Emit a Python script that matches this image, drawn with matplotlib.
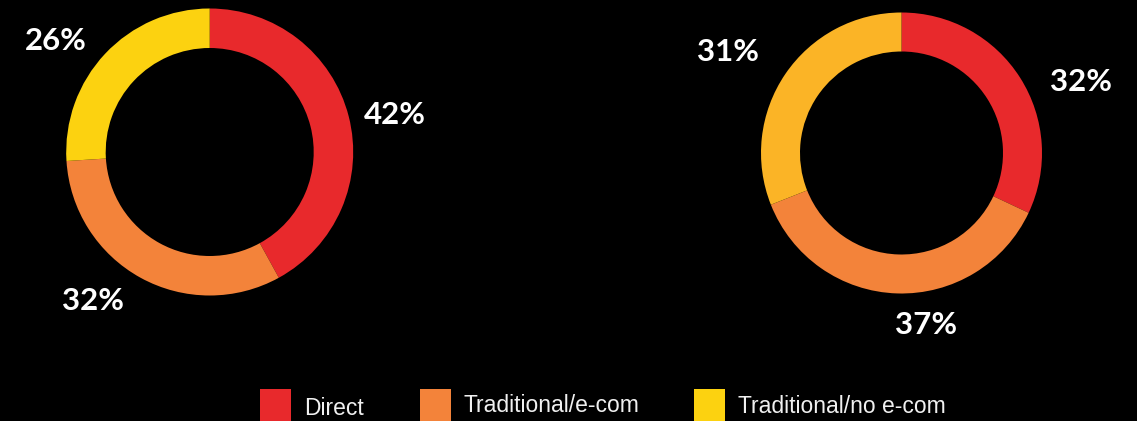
import matplotlib
matplotlib.use("Agg")
import matplotlib.pyplot as plt
from matplotlib.patches import Rectangle

W, H = 1137, 421

categories = ["Direct", "Traditional/e-com", "Traditional/no e-com"]
left_values = [42, 32, 26]
right_values = [32, 37, 31]
left_colors = ["#E8292C", "#F3833A", "#FCD210"]
right_colors = ["#E8292C", "#F3833A", "#FBB426"]
legend_colors = ["#E8292C", "#F3833A", "#FCD210"]

fig = plt.figure(figsize=(W / 100, H / 100), dpi=100, facecolor="black")
ax = fig.add_axes([0, 0, 1, 1])
ax.set_facecolor("black")
ax.set_xlim(0, W)
ax.set_ylim(0, H)
ax.set_aspect("equal")
ax.axis("off")


def donut(values, colors, cx, cy, r, ring, label_pos):
    ax.pie(values, colors=colors, startangle=90, counterclock=False,
           center=(cx, H - cy), radius=r,
           wedgeprops=dict(width=ring, edgecolor="none", linewidth=0))
    for v, (lx, ly) in zip(values, label_pos):
        ax.text(lx, H - ly, f"{v}%", color="white", fontsize=22.5,
                fontweight="bold", family=["Lato", "DejaVu Sans"],
                ha="center", va="center")


donut(left_values, left_colors, 209.7, 152.0, 143.5, 39.5,
      [(395, 115), (93, 301), (56, 41)])
donut(right_values, right_colors, 901.5, 153.0, 140.5, 39.0,
      [(1081, 82), (926, 325), (728, 52)])

# Legend row along the bottom edge
box_x = [260, 420, 694]
text_x = [304, 463, 738]
baselines = [415, 412, 413]
for name, col, bx, tx, by in zip(categories, legend_colors, box_x, text_x, baselines):
    ax.add_patch(Rectangle((bx, -5), 31, H - 389 + 5, facecolor=col,
                           edgecolor="none"))
    ax.text(tx, H - by, name, color="#F0F0F0", fontsize=16.5,
            family=["Liberation Sans", "DejaVu Sans"],
            ha="left", va="baseline")

ax.set_xlim(0, W)
ax.set_ylim(0, H)
fig.savefig("out.png", dpi=100, facecolor="black")
